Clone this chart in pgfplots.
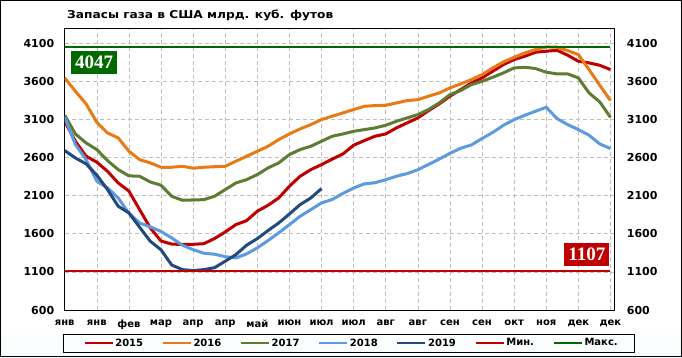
\documentclass[border=0pt]{standalone}
\usepackage{pgfplots}
\pgfplotsset{compat=1.18}
\usepackage{fontspec}
\setmainfont{DejaVu Sans}
\newfontfamily\titlefont{DejaVu Sans Bold}[FakeStretch=1.13]
\newfontfamily\boxfont{Liberation Serif}
\definecolor{c2015}{HTML}{C00000}
\definecolor{c2016}{HTML}{E97B16}
\definecolor{c2017}{HTML}{5E7D32}
\definecolor{c2018}{HTML}{5D9BDF}
\definecolor{c2019}{HTML}{234A7D}
\definecolor{cmin}{HTML}{C00000}
\definecolor{cmax}{HTML}{006A00}
\definecolor{bgblue}{HTML}{DDEBF7}
\definecolor{gridc}{HTML}{BFBFBF}
\pgfdeclareverticalshading{bgshade}{100bp}{color(0bp)=(bgblue); color(30bp)=(white); color(100bp)=(white)}
\begin{document}
\begin{tikzpicture}
\shade[shading=bgshade] (0pt,0pt) rectangle (682pt,357pt);
\draw[black, line width=1pt] (0.5pt,0.5pt) rectangle (681.5pt,356.5pt);
\node[anchor=west, inner sep=0pt] at (67pt,341.5pt) {\fontsize{10.8}{12}\titlefont Запасы газа в США млрд. куб. футов};
\begin{axis}[
  at={(64.7pt,47pt)}, anchor=south west,
  width=549.6pt, height=282pt, scale only axis,
  xmin=0, xmax=51.36, ymin=600, ymax=4300,
  xtick={0,3,...,51},
  xticklabels={янв,янв,фев,мар,апр,апр,май,июн,июл,июл,авг,авг,сен,сен,окт,ноя,дек,дек},
  ytick={600,1100,...,4100},
  grid=major,
  major grid style={gridc, line width=0.6pt, dash pattern=on 4pt off 3pt},
  major tick length=0pt,
  axis line style={black, line width=0.8pt},
  /pgf/number format/assume math mode=true,
  /pgf/number format/set thousands separator={},
  yticklabel style={font=\bfseries\fontsize{11}{12}\selectfont, xshift=-7pt},
  xticklabel style={font=\bfseries\fontsize{10}{11}\selectfont, yshift=-6pt},
  clip mode=individual,
  line join=round,
  legend columns=7,
  legend image code/.code={\draw[#1, line width=2.2pt] (0pt,0pt) -- (28pt,0pt);},
  legend style={at={(-0.003,-0.084)}, anchor=north west, draw=black, line width=0.8pt, fill=none,
    font=\bfseries\fontsize{10}{11}\selectfont, inner xsep=20pt, inner ysep=2.5pt,
    column sep=0pt, nodes={inner xsep=0pt}},
]
\addplot[c2015, line width=3pt] coordinates {(0,3076)(1,2814)(2,2617)(3,2540)(4,2420)(5,2267)(6,2160)(7,1917)(8,1677)(9,1505)(10,1465)(11,1460)(12,1462)(13,1470)(14,1537)(15,1624)(16,1720)(17,1773)(18,1896)(19,1974)(20,2070)(21,2224)(22,2355)(23,2442)(24,2508)(25,2580)(26,2648)(27,2762)(28,2823)(29,2880)(30,2910)(31,2989)(32,3055)(33,3120)(34,3216)(35,3304)(36,3405)(37,3492)(38,3579)(39,3645)(40,3733)(41,3820)(42,3886)(43,3929)(44,3982)(45,3995)(46,4008)(47,3943)(48,3864)(49,3842)(50,3811)(51,3754)};
\addlegendentry{\makebox[48pt][l]{\,2015}}
\addplot[c2016, line width=3pt] coordinates {(0,3645)(1,3470)(2,3304)(3,3063)(4,2923)(5,2858)(6,2683)(7,2573)(8,2530)(9,2473)(10,2473)(11,2486)(12,2460)(13,2473)(14,2480)(15,2486)(16,2552)(17,2617)(18,2683)(19,2748)(20,2836)(21,2910)(22,2976)(23,3033)(24,3098)(25,3143)(26,3186)(27,3230)(28,3273)(29,3282)(30,3286)(31,3317)(32,3348)(33,3360)(34,3405)(35,3448)(36,3514)(37,3566)(38,3623)(39,3689)(40,3776)(41,3855)(42,3916)(43,3973)(44,4017)(45,4052)(46,4048)(47,4004)(48,3951)(49,3754)(50,3549)(51,3348)};
\addlegendentry{\makebox[48pt][l]{\,2016}}
\addplot[c2017, line width=3pt] coordinates {(0,3155)(1,2910)(2,2792)(3,2705)(4,2560)(5,2442)(6,2360)(7,2355)(8,2280)(9,2237)(10,2092)(11,2040)(12,2044)(13,2048)(14,2092)(15,2180)(16,2267)(17,2311)(18,2377)(19,2464)(20,2530)(21,2639)(22,2705)(23,2748)(24,2814)(25,2880)(26,2910)(27,2945)(28,2967)(29,2989)(30,3024)(31,3076)(32,3120)(33,3164)(34,3230)(35,3317)(36,3426)(37,3479)(38,3557)(39,3601)(40,3654)(41,3711)(42,3776)(43,3785)(44,3768)(45,3720)(46,3698)(47,3698)(48,3645)(49,3448)(50,3330)(51,3129)};
\addlegendentry{\makebox[48pt][l]{\,2017}}
\addplot[c2018, line width=3pt] coordinates {(0,3129)(1,2770)(2,2573)(3,2290)(4,2202)(5,2070)(6,1870)(7,1742)(8,1690)(9,1630)(10,1546)(11,1450)(12,1392)(13,1345)(14,1332)(15,1300)(16,1283)(17,1336)(18,1415)(19,1511)(20,1612)(21,1720)(22,1830)(23,1917)(24,2005)(25,2050)(26,2130)(27,2200)(28,2255)(29,2270)(30,2310)(31,2355)(32,2390)(33,2440)(34,2510)(35,2580)(36,2656)(37,2722)(38,2765)(39,2850)(40,2930)(41,3024)(42,3098)(43,3155)(44,3208)(45,3260)(46,3112)(47,3033)(48,2967)(49,2893)(50,2779)(51,2718)};
\addlegendentry{\makebox[48pt][l]{\,2018}}
\addplot[c2019, line width=3pt] coordinates {(0,2692)(1,2595)(2,2517)(3,2370)(4,2180)(5,1961)(6,1874)(7,1686)(8,1502)(9,1390)(10,1190)(11,1130)(12,1117)(13,1130)(14,1155)(15,1240)(16,1327)(17,1450)(18,1537)(19,1642)(20,1742)(21,1860)(22,1983)(23,2070)(24,2193)};
\addlegendentry{\makebox[48pt][l]{\,2019}}
\addplot[cmin, line width=2pt] coordinates {(0,1107)(51,1107)};
\addlegendentry{\makebox[48pt][l]{\,Мин.}}
\addplot[cmax, line width=2pt] coordinates {(0,4047)(51,4047)};
\addlegendentry{\makebox[32pt][l]{\,Макс.}}
\node[fill=cmax, text=white, font=\boxfont\bfseries\fontsize{19}{20}\selectfont, inner xsep=4pt, inner ysep=5pt] at (axis cs:2.74,3848) {4047};
\node[fill=cmin, text=white, font=\boxfont\bfseries\fontsize{19}{20}\selectfont, inner xsep=4pt, inner ysep=5pt] at (axis cs:48.8,1326) {1107};
\end{axis}
\begin{axis}[
  at={(64.7pt,47pt)}, anchor=south west,
  width=549.6pt, height=282pt, scale only axis,
  xmin=0, xmax=51.36, ymin=600, ymax=4300,
  axis x line=none, axis y line*=right,
  ytick={600,1100,...,4100},
  major tick length=0pt,
  axis line style={black, line width=0.8pt},
  /pgf/number format/assume math mode=true,
  /pgf/number format/set thousands separator={},
  yticklabel style={font=\bfseries\fontsize{11}{12}\selectfont, xshift=9pt},
]
\end{axis}
\end{tikzpicture}
\end{document}
